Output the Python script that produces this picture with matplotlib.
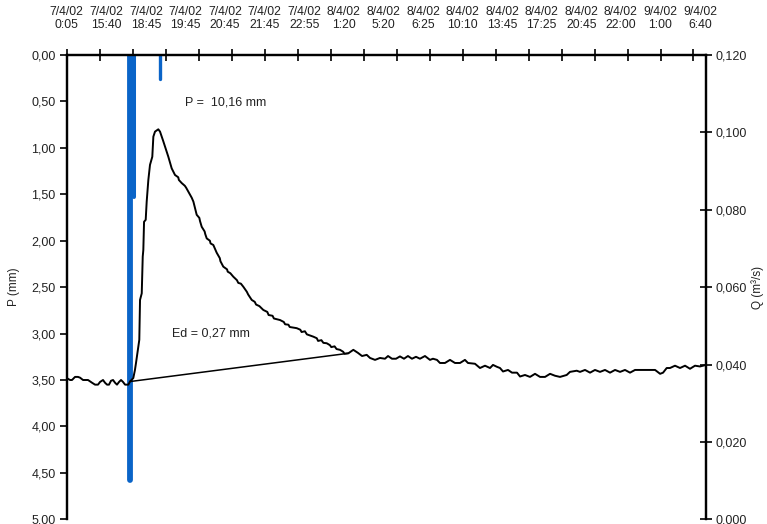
import matplotlib
matplotlib.use('Agg')
import matplotlib.pyplot as plt

plt.rcParams['font.family'] = ['Liberation Sans', 'DejaVu Sans']

# rótulos do eixo de tempo (topo)
date_labels = ["7/4/02\n0:05", "7/4/02\n15:40", "7/4/02\n18:45", "7/4/02\n19:45",
               "7/4/02\n20:45", "7/4/02\n21:45", "7/4/02\n22:55", "8/4/02\n1:20",
               "8/4/02\n5:20", "8/4/02\n6:25", "8/4/02\n10:10", "8/4/02\n13:45",
               "8/4/02\n17:25", "8/4/02\n20:45", "8/4/02\n22:00", "9/4/02\n1:00",
               "9/4/02\n6:40"]
label_pos = [0, 6, 12, 18, 24, 30, 36, 42, 48, 54, 60, 66, 72, 78, 84, 90, 96]
tick_pos = [0, 5, 10, 15, 20, 25, 30, 35, 40, 45, 50, 55, 60, 65, 70, 75, 80, 85, 90, 95]

# precipitação (mm)
rain_x = [9.52, 10.2, 14.14]
rain_p = [4.58, 1.53, 0.26]

# vazão (m3/s)
q_x = [0.00, 0.50, 0.80, 1.26, 1.71, 2.02, 2.47, 3.23, 3.83, 4.29, 4.74, 5.05,
       5.50, 5.80, 6.11, 6.41, 6.71, 7.02, 7.32, 7.62, 7.93, 8.23, 8.53, 8.84,
       9.34, 9.59, 10.09, 10.34, 10.50, 11.00, 11.11, 11.37, 11.52, 11.61, 11.72,
       11.97, 12.12, 12.37, 12.62, 12.97, 13.13, 13.38, 13.88, 14.14, 14.60, 14.90,
       15.40, 15.91, 16.41, 16.90, 17.00, 17.43, 17.90, 18.10, 18.43, 18.95, 19.20,
       19.70, 20.10, 20.20, 20.46, 20.90, 21.00, 21.22, 21.70, 21.80, 22.22, 22.73,
       23.20, 23.30, 23.73, 24.30, 24.40, 24.80, 25.25, 25.80, 26.00, 26.40, 26.77,
       27.30, 27.50, 28.04, 28.50, 28.70, 29.20, 29.80, 30.40, 30.60, 31.20, 31.40,
       32.33, 32.90, 33.10, 33.60, 33.80, 34.86, 35.40, 35.60, 36.10, 36.40, 37.38,
       37.90, 38.10, 38.60, 38.90, 39.41, 39.90, 40.10, 40.60, 40.90, 41.42, 41.90,
       42.10, 42.68,
       43.44, 44.15, 44.76, 45.47, 45.97, 46.73, 47.48, 48.24, 48.70, 49.30, 49.91,
       50.51, 51.12, 51.72, 52.33, 52.94, 53.54, 54.30, 55.06, 55.51, 56.12, 56.57,
       57.33, 58.09, 58.85, 59.61, 60.36, 60.82, 61.88, 62.64, 63.40, 64.16, 64.61,
       65.22, 65.67, 66.13, 66.89, 67.49, 68.25, 68.71, 69.46, 70.22, 70.98, 71.74,
       72.50, 73.26, 74.01, 74.77, 75.78, 76.28, 77.30, 77.80, 78.56, 79.32, 80.07,
       80.83, 81.59, 82.35, 83.11, 83.87, 84.62, 85.38, 86.14, 87.66, 89.18, 89.94,
       90.39, 90.94, 91.44, 92.20, 92.96, 93.72, 94.47, 95.23, 95.99, 96.90]
q_val = [0.0365, 0.0360, 0.0360, 0.0368, 0.0368, 0.0366, 0.0360, 0.0360, 0.0353, 0.0348,
         0.0348, 0.0355, 0.0360, 0.0353, 0.0348, 0.0348, 0.0358, 0.0360, 0.0353, 0.0348,
         0.0355, 0.0360, 0.0355, 0.0348, 0.0348, 0.0356, 0.0365, 0.0386, 0.0404, 0.0464,
         0.0567, 0.0584, 0.0679, 0.0696, 0.0769, 0.0774, 0.0821, 0.0877, 0.0916, 0.0937,
         0.0989, 0.1002, 0.1008, 0.1002, 0.0979, 0.0963, 0.0937, 0.0907, 0.0890, 0.0884,
         0.0877, 0.0869, 0.0862, 0.0857, 0.0847, 0.0831, 0.0821, 0.0787, 0.0779, 0.0771,
         0.0756, 0.0744, 0.0737, 0.0726, 0.0720, 0.0713, 0.0709, 0.0689, 0.0675, 0.0667,
         0.0653, 0.0646, 0.0640, 0.0636, 0.0627, 0.0618, 0.0611, 0.0609, 0.0601, 0.0588,
         0.0581, 0.0567, 0.0562, 0.0555, 0.0551, 0.0541, 0.0536, 0.0528, 0.0526, 0.0519,
         0.0515, 0.0510, 0.0504, 0.0503, 0.0497, 0.0494, 0.0490, 0.0484, 0.0486, 0.0478,
         0.0472, 0.0468, 0.0461, 0.0463, 0.0456, 0.0455, 0.0450, 0.0445, 0.0447, 0.0440,
         0.0438, 0.0433, 0.0428, 0.0429,
         0.0438, 0.0430, 0.0422, 0.0425, 0.0417, 0.0412, 0.0417, 0.0415, 0.0422, 0.0415,
         0.0415, 0.0421, 0.0415, 0.0422, 0.0415, 0.0420, 0.0415, 0.0422, 0.0412, 0.0415,
         0.0412, 0.0404, 0.0404, 0.0412, 0.0404, 0.0404, 0.0412, 0.0404, 0.0402, 0.0391,
         0.0397, 0.0391, 0.0399, 0.0394, 0.0391, 0.0382, 0.0386, 0.0379, 0.0379, 0.0369,
         0.0373, 0.0368, 0.0376, 0.0368, 0.0368, 0.0376, 0.0371, 0.0368, 0.0373, 0.0381,
         0.0384, 0.0381, 0.0386, 0.0379, 0.0386, 0.0381, 0.0386, 0.0379, 0.0386, 0.0381,
         0.0386, 0.0379, 0.0386, 0.0386, 0.0386, 0.0376, 0.0379, 0.0391, 0.0391, 0.0397,
         0.0391, 0.0397, 0.0389, 0.0397, 0.0395, 0.0399]

# separação do escoamento de base
base_x = [9.59, 42.68]
base_q = [0.0356, 0.0429]

p_ticks = [0.0, 0.5, 1.0, 1.5, 2.0, 2.5, 3.0, 3.5, 4.0, 4.5, 5.0]
q_ticks = [0.0, 0.02, 0.04, 0.06, 0.08, 0.10, 0.12]

fig = plt.figure(figsize=(7.67, 5.24), dpi=100)
ax = fig.add_axes([0.087, 0.009, 0.8335, 0.886])
ax2 = ax.twinx()

# hietograma
for x, p, lw in zip(rain_x, rain_p, [4.2, 2.9, 2.4]):
    ax.plot([x, x], [0, p], color='#0a64c8', lw=lw, solid_capstyle='round')

# hidrograma
ax2.plot(q_x, q_val, color='black', lw=1.4)
ax2.plot(base_x, base_q, color='black', lw=1.1)

ax.set_xlim(0, 96.9)
ax.set_ylim(5, 0)
ax2.set_ylim(0, 0.12)

for a in (ax, ax2):
    a.spines['bottom'].set_visible(False)
    for s in ('left', 'right', 'top'):
        a.spines[s].set_linewidth(1.6)

ax.xaxis.tick_top()
ax.set_xticks(tick_pos)
ax.set_xticklabels([])
ax.tick_params(axis='x', direction='inout', length=8, width=1.2)

sec = ax.secondary_xaxis('top')
sec.set_xticks(label_pos, labels=date_labels)
sec.tick_params(length=0, pad=17, labelsize=8.8, colors='#222222')
sec.spines['top'].set_visible(False)

ax.set_yticks(p_ticks)
ax.set_yticklabels([f"{v:.2f}".replace('.', ',') for v in p_ticks])
ax.tick_params(axis='y', direction='out', length=5, width=1.2, labelsize=9,
               labelcolor='#222222', pad=3)
ax.set_ylabel('P (mm)', fontsize=8.5, labelpad=8, color='#222222')

ax2.set_yticks(q_ticks)
ax2.set_yticklabels([f"{v:.3f}".replace('.', ',') for v in q_ticks])
ax2.tick_params(axis='y', direction='inout', length=8, width=1.2, labelsize=9,
                labelcolor='#222222', pad=3)
ax2.set_ylabel('Q (m³/s)', fontsize=8.5, labelpad=3, color='#222222')

ax.text(17.96, 0.51, 'P =  10,16 mm', fontsize=9, va='center', color='#222222')
ax.text(16.0, 3.0, 'Ed = 0,27 mm', fontsize=9, va='center', color='#222222')

fig.savefig('out.png', dpi=100)
